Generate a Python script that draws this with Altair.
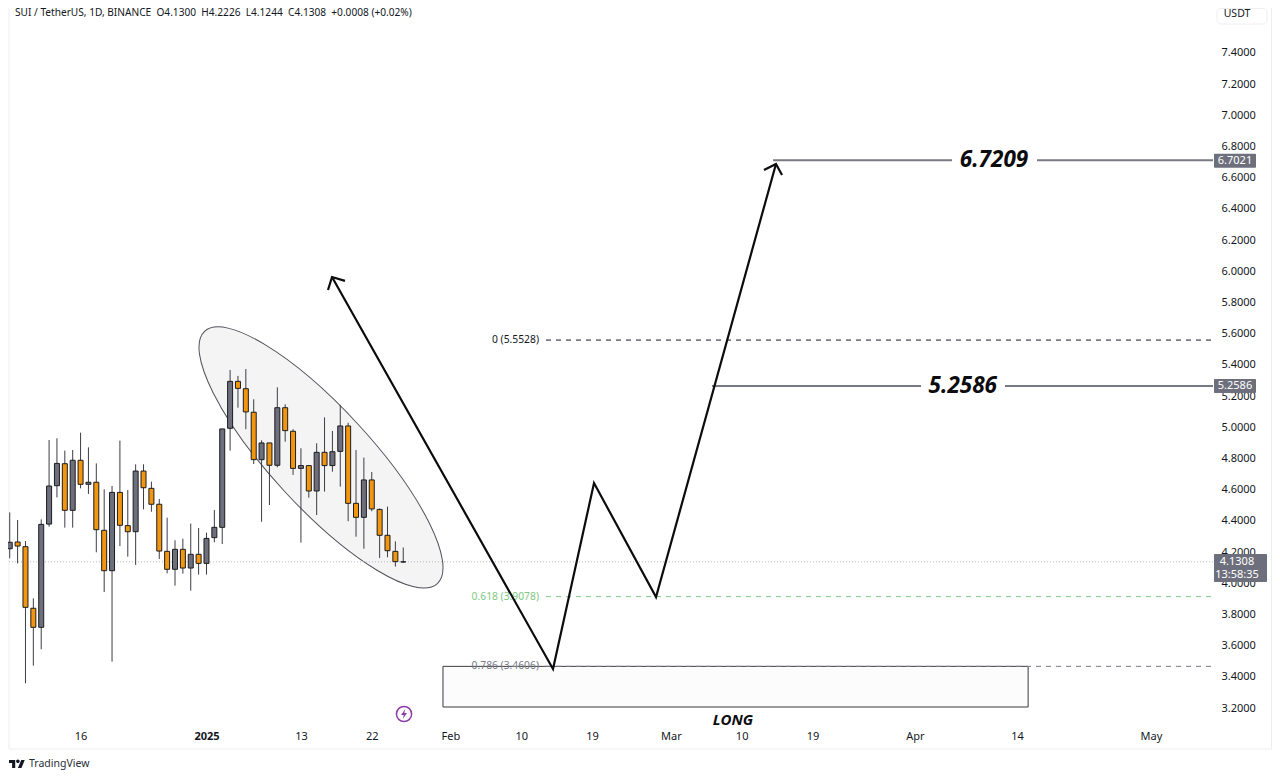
import altair as alt
import pandas as pd

# ---- candles (daily, first bar 2024-12-07) ----
opens = [4.215,4.258,4.228,3.833,3.711,4.373,4.619,4.760,4.461,4.782,4.628,4.641,4.333,4.074,4.576,4.363,4.324,4.713,4.602,4.500,
         4.198,4.083,4.211,4.091,4.179,4.121,4.286,4.352,4.987,5.288,5.241,5.090,4.786,4.893,4.750,5.119,4.968,4.730,4.748,4.585,
         4.833,4.748,4.839,5.002,4.506,4.416,4.656,4.467,4.301,4.198,4.1300]
highs = [4.448,4.399,4.264,3.897,4.403,4.912,4.923,4.844,4.848,4.959,4.865,4.762,4.596,4.617,4.908,4.591,4.756,4.756,4.645,4.534,
         4.414,4.269,4.279,4.376,4.348,4.318,4.463,4.983,5.361,5.323,5.367,5.173,4.910,4.893,5.250,5.141,4.981,4.859,4.750,4.891,
         5.057,4.970,5.137,5.023,4.848,4.799,4.707,4.472,4.485,4.262,4.2226]
lows = [4.153,4.121,3.352,3.465,3.570,4.356,4.544,4.350,4.350,4.602,4.566,4.192,3.937,3.491,4.232,4.164,4.111,4.467,4.452,4.149,
        4.057,3.978,4.055,3.946,4.049,4.049,4.256,4.245,4.844,5.119,4.981,4.758,4.388,4.495,4.737,4.901,4.688,4.254,4.542,4.431,
        4.581,4.709,4.613,4.391,4.292,4.215,4.455,4.155,4.160,4.100,4.1244]
closes = [4.256,4.232,3.839,3.711,4.371,4.617,4.762,4.461,4.782,4.628,4.641,4.337,4.074,4.576,4.365,4.324,4.713,4.606,4.500,4.200,
          4.083,4.211,4.091,4.179,4.121,4.281,4.352,4.983,5.288,5.243,5.092,4.786,4.893,4.750,5.119,4.972,4.730,4.748,4.585,4.833,
          4.748,4.837,5.002,4.506,4.416,4.656,4.470,4.301,4.202,4.132,4.1308]

# ---- annotations: x in days from 2025-01-01, y in price ----
arrow_group = [0,0,0,0,0,1,1,1,2,2,2]
arrow_days = [15.95,44.03,49.24,57.12,72.36,15.44,15.95,17.60,70.84,72.36,73.13]
arrow_price = [5.957,3.444,4.636,3.905,6.682,5.874,5.957,5.932,6.643,6.682,6.611]

level_from = [71.98,105.53,64.23,101.46]
level_to = [94.73,127.89,90.79,127.89]
level_price = [6.705,6.705,5.2586,5.2586]
level_text = ["6.7209","5.2586"]
level_text_days = [100.06,96.1]
level_text_price = [6.705,5.2586]

fib_text = ["0 (5.5528)","0.618 (3.9078)","0.786 (3.4606)"]
fib_price = [5.5528,3.9078,3.4606]
fib_color = ["#131722","#81c784","#787b86"]

box_days = [30.05,104.4]
box_price = [3.4606,3.2]

last_price = 4.1308
tag_price = [6.7021,5.2586]
tag_text = ["6.7021","5.2586"]

price_ticks = [3.2,3.4,3.6,3.8,4.0,4.2,4.4,4.6,4.8,5.0,5.2,5.4,5.6,5.8,6.0,6.2,6.4,6.6,6.8,7.0,7.2,7.4]
date_ticks = ["2024-12-16","2025-01-01","2025-01-13","2025-01-22","2025-02-01","2025-02-10","2025-02-19",
              "2025-03-01","2025-03-10","2025-03-19","2025-04-01","2025-04-14","2025-05-01"]

header = "SUI / TetherUS, 1D, BINANCE\u00a0\u00a0O4.1300\u00a0\u00a0H4.2226\u00a0\u00a0L4.1244\u00a0\u00a0C4.1308\u00a0\u00a0+0.0008 (+0.02%)"
FONT = "Noto Sans"
GRAY = "#6e6f7c"
ORANGE = "#f2960f"
INK = "#131722"

DAY = 86400000
EPOCH = int(pd.Timestamp("2025-01-01", tz="UTC").timestamp() * 1000)
def ms(d):
    return int(EPOCH + d * DAY)

tick_ms = [int(pd.Timestamp(d, tz="UTC").timestamp() * 1000) for d in date_ticks]
label_expr = ("utcdate(datum.value)==1 ? (utcmonth(datum.value)==0 ? utcFormat(datum.value,'%Y') "
              ": utcFormat(datum.value,'%b')) : utcFormat(datum.value,'%-d')")
x_axis = alt.Axis(values=tick_ms, labelExpr=label_expr, grid=False, domain=False, ticks=False, tickSize=0,
                  labelPadding=6, labelFont=FONT, labelFontSize=11, labelColor=INK, title=None,
                  labelFlush=False, labelOverlap=False, labelAngle=0,
                  labelFontWeight=alt.expr("utcmonth(datum.value)==0 && utcdate(datum.value)==1 ? 'bold' : 'normal'"))
y_axis = alt.Axis(orient="right", values=price_ticks, format=".4f", grid=False, domain=False, ticks=False, tickSize=0,
                  labelPadding=8, labelOffset=1, labelFont=FONT, labelFontSize=11, labelColor=INK, title=None, labelOverlap=False)

x_scale = alt.Scale(type="utc", domain=[ms(-25.22), ms(127.89)], nice=False, padding=0)
y_scale = alt.Scale(domain=[3.091, 7.682], nice=False, zero=False, padding=0)
X = alt.X("x:T", scale=x_scale, axis=x_axis, title=None)
Y = alt.Y("y:Q", scale=y_scale, axis=y_axis, title=None)
X2 = alt.X2("x2:T")
Y2 = alt.Y2("y2:Q")

candles = pd.DataFrame({
    "x": [ms(i - 25) for i in range(len(opens))],
    "y": lows, "y2": highs,
    "top": [max(a, b) for a, b in zip(opens, closes)],
    "bot": [min(a, b) for a, b in zip(opens, closes)],
    "dir": ["up" if c >= o else "down" for o, c in zip(opens, closes)],
})

one = pd.DataFrame({"a": [1]})

# frame
frame_l = alt.Chart(one).mark_rule(color="#eeeeee", size=1).encode(x=alt.value(1), y=alt.value(0), y2=alt.value(741))
frame_r = alt.Chart(one).mark_rule(color="#eeeeee", size=1).encode(x=alt.value(1263.5), y=alt.value(0), y2=alt.value(741))
frame_h = alt.Chart(one).mark_rule(color="#eeeeee", size=1).encode(y=alt.value(741), x=alt.value(1), x2=alt.value(1264))

# ellipse
ellipse_path = "M-1,0A1,0.29 0 1,1 1,0A1,0.29 0 1,1 -1,0Z"
ellipse = alt.Chart(pd.DataFrame({"x": [ms(14.55)], "y": [4.8]})).mark_point(
    shape=ellipse_path, size=117786, angle=47.3, filled=True, fill="#f4f4f4", fillOpacity=1,
    stroke="#50525c", strokeWidth=1, strokeOpacity=1, opacity=1).encode(x=X, y=Y)

# last price dotted line
last_line = alt.Chart(pd.DataFrame({"y": [last_price], "x": [ms(-25.1)], "x2": [ms(127.89)]})).mark_rule(
    color="#b2b5be", size=1, strokeDash=[1, 2]).encode(x=X, x2=X2, y=Y)

# candles
color = alt.Color("dir:N", scale=alt.Scale(domain=["up", "down"], range=[GRAY, ORANGE]), legend=None)
wicks = alt.Chart(candles).mark_rule(color="#3c3d45", size=1).encode(x=X, y=Y, y2=Y2)
bodies = alt.Chart(candles).mark_bar(size=5, stroke="#1c1c20", strokeWidth=1).encode(
    x=X, y=alt.Y("top:Q", scale=y_scale, axis=y_axis, title=None), y2=alt.Y2("bot:Q"), color=color)

# box
box = alt.Chart(pd.DataFrame({"x": [ms(box_days[0])], "x2": [ms(box_days[1])], "y": [box_price[0]], "y2": [box_price[1]]})).mark_rect(
    fill="#fcfcfc", stroke="#3a3a40", strokeWidth=1).encode(x=X, x2=X2, y=Y, y2=Y2)

# fib levels
fib = pd.DataFrame({"t": fib_text, "y": fib_price, "c": fib_color, "x": [ms(43.14)] * 3, "x2": [ms(127.89)] * 3, "lx": [ms(42.25)] * 3})
fib_rules = alt.Chart(fib).mark_rule(size=1, strokeDash=[5, 5]).encode(
    x=X, x2=X2, y=Y, color=alt.Color("c:N", scale=None, legend=None))
fib_labels = alt.Chart(fib).mark_text(align="right", baseline="middle", font=FONT, fontSize=10.3).encode(
    x=alt.X("lx:T", scale=x_scale, axis=x_axis, title=None), y=Y, text="t:N", color=alt.Color("c:N", scale=None, legend=None))

# level lines
levels = alt.Chart(pd.DataFrame({"x": [ms(d) for d in level_from], "x2": [ms(d) for d in level_to], "y": level_price})).mark_rule(
    color="#777985", size=2).encode(x=X, x2=X2, y=Y)
level_labels = alt.Chart(pd.DataFrame({"x": [ms(d) for d in level_text_days], "y": level_text_price, "t": level_text})).mark_text(
    font="Open Sans", fontSize=22.5, fontWeight="bold", fontStyle="italic", color="#0c0c0f", baseline="middle").encode(x=X, y=Y, text="t:N")

# arrows
arrows = alt.Chart(pd.DataFrame({"x": [ms(d) for d in arrow_days], "y": arrow_price, "g": arrow_group,
                                 "i": list(range(len(arrow_days)))})).mark_line(
    color="#0c0c0f", strokeWidth=2.2, strokeJoin="miter").encode(x=X, y=Y, detail="g:N", order="i:Q")

long_text = alt.Chart(pd.DataFrame({"x": [ms(66.9)], "y": [3.117], "t": ["LONG"]})).mark_text(
    font="Open Sans", fontSize=15, fontWeight="bold", fontStyle="italic", color="#0c0c0f", baseline="middle").encode(x=X, y=Y, text="t:N")

# lightning icon
bolt_ring = alt.Chart(pd.DataFrame({"x": [ms(25.1)], "y": [3.155]})).mark_point(
    shape="circle", size=230, stroke="#8e3da8", strokeWidth=1.5, filled=False, opacity=1).encode(x=X, y=Y)
bolt = alt.Chart(pd.DataFrame({"x": [ms(25.1)], "y": [3.155]})).mark_point(
    shape="M0.25,-1L-0.6,0.2L-0.05,0.2L-0.25,1L0.6,-0.2L0.05,-0.2Z", size=100, filled=True, fill="#8e3da8", opacity=1, strokeWidth=0).encode(x=X, y=Y)

# price tags
tags_bg = alt.Chart(pd.DataFrame({"y": tag_price})).mark_rect(color=GRAY, height=14, cornerRadius=1).encode(
    x=alt.value(1206), x2=alt.value(1248), y=Y)
tags_text = alt.Chart(pd.DataFrame({"y": tag_price, "t": tag_text})).mark_text(
    color="#ffffff", font=FONT, fontSize=11, baseline="middle", align="center").encode(x=alt.value(1227), y=Y, text="t:N")
last_bg = alt.Chart(one).mark_rect(color=GRAY, cornerRadius=1).encode(
    x=alt.value(1206), x2=alt.value(1259), y=alt.value(546), y2=alt.value(574))
last_t1 = alt.Chart(pd.DataFrame({"y": [last_price], "t": ["4.1308"]})).mark_text(
    color="#ffffff", font=FONT, fontSize=11, baseline="middle", align="center").encode(x=alt.value(1229), y=Y, text="t:N")
last_t2 = alt.Chart(one).mark_text(
    text="13:58:35", color="#ffffff", font=FONT, fontSize=11, baseline="middle", align="center").encode(x=alt.value(1229), y=alt.value(567))

# header, currency button, brand
head = alt.Chart(one).mark_text(
    text=header, font=FONT, fontSize=10.15, color=INK, align="left", baseline="middle").encode(x=alt.value(7), y=alt.value(5))
usdt_box = alt.Chart(one).mark_rect(fill="#ffffff", stroke="#eeeeee", cornerRadius=4).encode(
    x=alt.value(1209), x2=alt.value(1259), y=alt.value(0.5), y2=alt.value(16))
usdt = alt.Chart(one).mark_text(
    text="USDT", font=FONT, fontSize=10.5, color=INK, align="center", baseline="middle").encode(x=alt.value(1229), y=alt.value(6))
logo_path = ("M-0.222,0.5H-0.611V-0.111H-1V-0.5H-0.222Z M0.556,0.5H0.111L0.528,-0.5H0.972Z "
             "M-0.111,-0.333A0.222,0.222 0 1,1 0.333,-0.333A0.222,0.222 0 1,1 -0.111,-0.333Z")
logo = alt.Chart(one).mark_point(
    shape=logo_path, size=256, filled=True, fill="#131722", opacity=1, strokeWidth=0).encode(x=alt.value(9), y=alt.value(756))
brand = alt.Chart(one).mark_text(
    text="TradingView", font=FONT, fontSize=10.5, color="#2a2e39", align="left", baseline="middle").encode(x=alt.value(21), y=alt.value(756))

chart = alt.layer(
    frame_l, frame_r, frame_h, ellipse, last_line, wicks, bodies, box, fib_rules, fib_labels, levels, level_labels,
    arrows, long_text, bolt_ring, bolt, tags_bg, tags_text, last_bg, last_t1, last_t2, head, usdt_box, usdt, logo, brand,
).resolve_scale(color="independent").properties(
    width=1205, height=716,
    autosize=alt.AutoSizeParams(type="none"),
    padding={"left": 0, "top": 0, "right": 59, "bottom": 50},
    background="#ffffff",
).configure_view(stroke=None)

chart.save("out.html", embed_options={"renderer": "svg", "actions": False})
